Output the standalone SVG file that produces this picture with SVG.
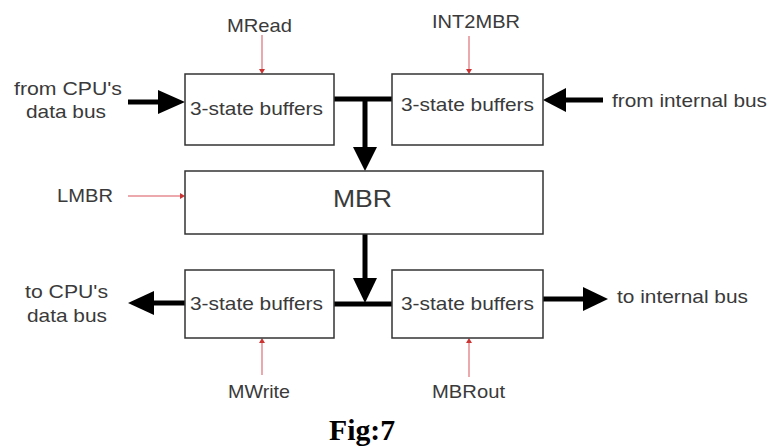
<svg xmlns="http://www.w3.org/2000/svg" width="769" height="448" viewBox="0 0 769 448">
<style>
.box{fill:#fff;stroke:#333;stroke-width:1.5}
.t{font-family:"Liberation Sans",Arial,sans-serif;font-size:19px;fill:#3a3a3a}
.bus{stroke:#000;stroke-width:5;fill:none}
.ctl{stroke:#d9535b;stroke-width:1;fill:none}
.head{fill:#000}
.rh{fill:#c33}
</style>
<rect width="769" height="448" fill="#fff"/>
<g id="connectors">
<line class="bus" x1="334" y1="99" x2="392" y2="99"/>
<line class="bus" x1="365" y1="99" x2="365" y2="148"/>
<polygon class="head" points="353,147 377,147 365,171"/>
<line class="bus" x1="128" y1="102" x2="160" y2="102"/>
<polygon class="head" points="158,90 185,102 158,114"/>
<line class="bus" x1="565" y1="100" x2="603" y2="100"/>
<polygon class="head" points="566,88 543,100 566,112"/>
<line class="bus" x1="365" y1="234" x2="365" y2="280"/>
<polygon class="head" points="353,278 377,278 365,303"/>
<line class="bus" x1="334" y1="304" x2="392" y2="304"/>
<line class="bus" x1="152" y1="303" x2="185" y2="303"/>
<polygon class="head" points="154,291 128,303 154,315"/>
<line class="bus" x1="543" y1="299" x2="585" y2="299"/>
<polygon class="head" points="583,287 608,299 583,311"/>
<line class="ctl" x1="262" y1="35" x2="262" y2="70"/>
<polygon class="rh" points="259,69 265,69 262,74"/>
<line class="ctl" x1="469" y1="36" x2="469" y2="70"/>
<polygon class="rh" points="466,69 472,69 469,74"/>
<line class="ctl" x1="128" y1="196" x2="181" y2="196"/>
<polygon class="rh" points="180,193 180,199 185,196"/>
<line class="ctl" x1="262" y1="375" x2="262" y2="342"/>
<polygon class="rh" points="259,343 265,343 262,338"/>
<line class="ctl" x1="469" y1="377" x2="469" y2="342"/>
<polygon class="rh" points="466,343 472,343 469,338"/>
</g>
<g id="buf-top-left">
<rect class="box" x="185" y="74" width="149" height="71"/>
<text class="t" x="190" y="115" textLength="133" lengthAdjust="spacingAndGlyphs">3-state buffers</text>
</g>
<g id="buf-top-right">
<rect class="box" x="392" y="74" width="151" height="71"/>
<text class="t" x="401" y="111" textLength="133" lengthAdjust="spacingAndGlyphs">3-state buffers</text>
</g>
<g id="mbr">
<rect class="box" x="185" y="171" width="358" height="63"/>
<text x="333" y="207" textLength="59" lengthAdjust="spacingAndGlyphs" font-family="Liberation Sans,Arial,sans-serif" font-size="23" fill="#3a3a3a">MBR</text>
</g>
<g id="buf-bot-left">
<rect class="box" x="185" y="270" width="149" height="68"/>
<text class="t" x="190" y="310" textLength="133" lengthAdjust="spacingAndGlyphs">3-state buffers</text>
</g>
<g id="buf-bot-right">
<rect class="box" x="392" y="270" width="151" height="68"/>
<text class="t" x="401" y="310" textLength="133" lengthAdjust="spacingAndGlyphs">3-state buffers</text>
</g>
<g id="labels">
<text class="t" x="14" y="95" textLength="108" lengthAdjust="spacingAndGlyphs">from CPU's</text>
<text class="t" x="26" y="118" textLength="80" lengthAdjust="spacingAndGlyphs">data bus</text>
<text class="t" x="612" y="107" textLength="155" lengthAdjust="spacingAndGlyphs">from internal bus</text>
<text class="t" x="227" y="32" textLength="65" lengthAdjust="spacingAndGlyphs">MRead</text>
<text class="t" x="432" y="28" textLength="88" lengthAdjust="spacingAndGlyphs">INT2MBR</text>
<text class="t" x="57" y="202" textLength="56" lengthAdjust="spacingAndGlyphs">LMBR</text>
<text class="t" x="25" y="298" textLength="83" lengthAdjust="spacingAndGlyphs">to CPU's</text>
<text class="t" x="27" y="322" textLength="80" lengthAdjust="spacingAndGlyphs">data bus</text>
<text class="t" x="617" y="303" textLength="131" lengthAdjust="spacingAndGlyphs">to internal bus</text>
<text class="t" x="228" y="398" textLength="62" lengthAdjust="spacingAndGlyphs">MWrite</text>
<text class="t" x="432" y="398" textLength="73" lengthAdjust="spacingAndGlyphs">MBRout</text>
<text x="329" y="440" textLength="66" lengthAdjust="spacingAndGlyphs" font-family="Liberation Serif,Times New Roman,serif" font-weight="bold" font-size="29" fill="#000">Fig:7</text>
</g>
</svg>
